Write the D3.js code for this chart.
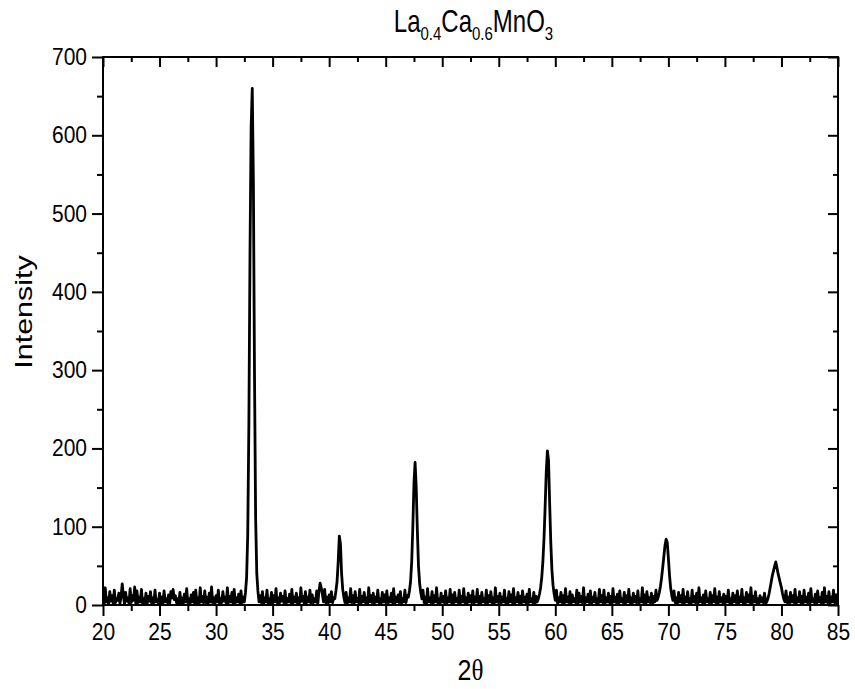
<!DOCTYPE html>
<html>
<head>
<meta charset="utf-8">
<script src="https://cdn.jsdelivr.net/npm/d3@7"></script>
<style>
	body { margin: 0; background: #fff; }
	text { font-family: Arial, 'Liberation Sans', sans-serif; fill: #000; }
</style>
</head>
<body>
<script>
// Scan start and step (degrees 2theta)
const scanStart = 20;
const scanStep = 0.1;

const intensity = [
	14, 2, 22, 4, 9, 1, 17, 5, 12, 2, // 20
	19, 3, 8, 6, 15, 2, 11, 27, 13, 1, // 21
	16, 5, 9, 2, 21, 3, 12, 6, 23, 2, // 22
	18, 3, 10, 4, 20, 2, 8, 3, 15, 1, // 23
	11, 5, 17, 2, 9, 3, 19, 4, 7, 2, // 24
	15, 3, 10, 2, 18, 4, 8, 3, 13, 2, // 25
	17, 9, 20, 7, 12, 3, 8, 2, 16, 3, // 26
	9, 2, 14, 4, 21, 3, 8, 2, 13, 4, // 27
	16, 2, 19, 3, 9, 2, 22, 4, 11, 3, // 28
	18, 3, 10, 2, 15, 4, 23, 3, 9, 2, // 29
	12, 4, 19, 2, 8, 3, 17, 5, 10, 2, // 30
	22, 3, 11, 4, 16, 2, 20, 3, 9, 4, // 31
	14, 2, 18, 3, 10, 4, 16, 35, 90, 230, // 32
	450, 610, 660, 540, 290, 110, 40, 18, 4, 12, // 33
	3, 17, 2, 9, 4, 19, 2, 8, 3, 16, // 34
	2, 12, 4, 21, 3, 9, 2, 15, 5, 11, // 35
	3, 18, 2, 8, 4, 14, 3, 20, 2, 10, // 36
	4, 15, 2, 9, 3, 22, 5, 11, 2, 17, // 37
	3, 10, 4, 19, 2, 13, 3, 8, 4, 18, // 38
	2, 18, 28, 22, 14, 4, 20, 3, 10, 2, // 39
	13, 4, 17, 3, 9, 8, 18, 30, 55, 88, // 40
	78, 40, 20, 10, 3, 16, 2, 9, 4, 21, // 41
	3, 12, 2, 17, 4, 8, 3, 20, 2, 11, // 42
	4, 16, 3, 9, 2, 22, 4, 12, 3, 15, // 43
	2, 10, 4, 19, 3, 8, 2, 16, 4, 13, // 44
	3, 18, 2, 9, 4, 15, 3, 21, 2, 10, // 45
	4, 13, 3, 17, 2, 8, 4, 19, 3, 12, // 46
	10, 18, 30, 55, 100, 155, 182, 150, 95, 50, // 47
	28, 16, 8, 19, 3, 10, 2, 21, 4, 9, // 48
	3, 17, 2, 12, 4, 22, 3, 8, 2, 15, // 49
	4, 11, 3, 18, 2, 9, 4, 20, 3, 13, // 50
	2, 16, 4, 8, 3, 19, 2, 11, 4, 21, // 51
	3, 9, 2, 15, 4, 12, 3, 18, 2, 10, // 52
	4, 20, 3, 11, 2, 16, 4, 8, 3, 19, // 53
	2, 12, 4, 17, 3, 9, 2, 22, 4, 11, // 54
	3, 15, 2, 10, 4, 19, 3, 8, 2, 17, // 55
	4, 13, 3, 21, 2, 9, 4, 16, 3, 11, // 56
	2, 18, 4, 10, 3, 14, 2, 20, 4, 8, // 57
	3, 16, 2, 11, 4, 8, 14, 22, 35, 55, // 58
	85, 125, 170, 197, 185, 130, 80, 45, 25, 14, // 59
	6, 19, 2, 9, 4, 16, 3, 12, 2, 21, // 60
	4, 10, 3, 17, 2, 13, 4, 8, 3, 19, // 61
	2, 15, 4, 11, 3, 22, 2, 9, 4, 14, // 62
	3, 18, 2, 10, 4, 16, 3, 8, 2, 20, // 63
	4, 12, 3, 19, 2, 9, 4, 15, 3, 11, // 64
	2, 21, 4, 10, 3, 14, 2, 18, 4, 8, // 65
	3, 16, 2, 12, 4, 20, 3, 9, 2, 15, // 66
	4, 11, 3, 18, 2, 8, 4, 22, 3, 13, // 67
	2, 17, 4, 9, 3, 15, 2, 11, 4, 19, // 68
	6, 10, 16, 24, 35, 48, 62, 76, 84, 80, // 69
	60, 38, 22, 12, 6, 18, 3, 9, 2, 16, // 70
	4, 12, 3, 20, 2, 10, 4, 17, 3, 8, // 71
	2, 19, 4, 11, 3, 15, 2, 22, 4, 9, // 72
	3, 13, 2, 18, 4, 8, 3, 16, 2, 12, // 73
	4, 21, 3, 10, 2, 17, 4, 9, 3, 14, // 74
	2, 11, 4, 19, 3, 8, 2, 15, 4, 12, // 75
	3, 18, 2, 10, 4, 20, 3, 9, 2, 16, // 76
	4, 13, 3, 22, 2, 11, 4, 17, 3, 8, // 77
	2, 12, 4, 9, 3, 15, 2, 4, 8, 14, // 78
	22, 30, 38, 44, 50, 55, 48, 40, 34, 28, // 79
	22, 14, 8, 4, 18, 3, 10, 2, 16, 4, // 80
	12, 3, 20, 2, 9, 4, 17, 3, 11, 2, // 81
	19, 4, 10, 3, 15, 2, 21, 4, 8, 3, // 82
	14, 2, 18, 4, 9, 3, 16, 2, 22, 4, // 83
	11, 3, 17, 2, 10, 4, 19, 3, 13, 2, // 84
	15 // 85
];

// Axis ticks
const xTicks = [20, 25, 30, 35, 40, 45, 50, 55, 60, 65, 70, 75, 80, 85];
const yTicks = [0, 100, 200, 300, 400, 500, 600, 700];

const width = 855;
const height = 689;
const margin = {top: 57, right: 17, bottom: 84, left: 103};

// The original text is drawn a bit taller than it is wide
const tickStretch = 1.12;
const titleStretch = 1.27;

const svg = d3.select('body').append('svg').attr('width', width).attr('height', height);

const x = d3.scaleLinear().domain([20, 85]).range([margin.left, width - margin.right]);
const y = d3.scaleLinear().domain([0, 700]).range([height - margin.bottom, margin.top]);

const data = intensity.map((v, i) => ({t: scanStart + i * scanStep, v: v}));

// Clip the trace to the frame
svg.append('clipPath')
	.attr('id', 'plot-clip')
	.append('rect')
	.attr('x', margin.left)
	.attr('y', margin.top)
	.attr('width', x.range()[1] - margin.left)
	.attr('height', y.range()[0] - margin.top);

const line = d3
	.line()
	.x((d) => x(d.t))
	.y((d) => y(d.v));

svg.append('path')
	.datum(data)
	.attr('clip-path', 'url(#plot-clip)')
	.attr('d', line)
	.attr('fill', 'none')
	.attr('stroke', '#000')
	.attr('stroke-width', 2.8)
	.attr('stroke-linejoin', 'round');

// Minor ticks sit halfway between the majors
const xMinor = d3.range(22.5, 85, 5);
const yMinor = d3.range(50, 700, 100);

function styleAxis(g) {
	g.select('.domain').remove();
	g.selectAll('line').attr('stroke', '#000').attr('stroke-width', 2);
	g.selectAll('text').style('font-size', '21px').attr('transform', `scale(1, ${tickStretch})`);
}

// Bottom: ticks outward, labelled
svg.append('g')
	.attr('transform', `translate(0, ${y(0)})`)
	.call(d3.axisBottom(x).tickValues(xTicks).tickSize(11).tickPadding(5).tickFormat(d3.format('d')))
	.call(styleAxis);
svg.append('g')
	.attr('transform', `translate(0, ${y(0)})`)
	.call(d3.axisBottom(x).tickValues(xMinor).tickSize(6).tickFormat(''))
	.call(styleAxis);

// Left: ticks outward, labelled
svg.append('g')
	.attr('transform', `translate(${x(20)}, 0)`)
	.call(d3.axisLeft(y).tickValues(yTicks).tickSize(11).tickPadding(5).tickFormat(d3.format('d')))
	.call(styleAxis);
svg.append('g')
	.attr('transform', `translate(${x(20)}, 0)`)
	.call(d3.axisLeft(y).tickValues(yMinor).tickSize(6).tickFormat(''))
	.call(styleAxis);

// Top and right: ticks point inside, no labels
svg.append('g')
	.attr('transform', `translate(0, ${y(700)})`)
	.call(d3.axisTop(x).tickValues(xTicks).tickSize(-10).tickFormat(''))
	.call(styleAxis);
svg.append('g')
	.attr('transform', `translate(0, ${y(700)})`)
	.call(d3.axisTop(x).tickValues(xMinor).tickSize(-5).tickFormat(''))
	.call(styleAxis);
svg.append('g')
	.attr('transform', `translate(${x(85)}, 0)`)
	.call(d3.axisRight(y).tickValues(yTicks).tickSize(-10).tickFormat(''))
	.call(styleAxis);
svg.append('g')
	.attr('transform', `translate(${x(85)}, 0)`)
	.call(d3.axisRight(y).tickValues(yMinor).tickSize(-5).tickFormat(''))
	.call(styleAxis);

// Frame
svg.append('rect')
	.attr('x', x(20))
	.attr('y', y(700))
	.attr('width', x(85) - x(20))
	.attr('height', y(0) - y(700))
	.attr('fill', 'none')
	.attr('stroke', '#000')
	.attr('stroke-width', 2);

// Axis titles
svg.append('text')
	.attr('transform', `translate(32, 312) rotate(-90) scale(${titleStretch}, 1)`)
	.attr('text-anchor', 'middle')
	.style('font-size', '24px')
	.text('Intensity');

const xTitle = svg.append('text')
	.attr('transform', `translate(${(x(20) + x(85)) / 2}, 680) scale(1, 1.2)`)
	.attr('text-anchor', 'middle')
	.style('font-size', '25px');
xTitle.append('tspan').text('2');
xTitle.append('tspan').style('font-family', "'Times New Roman', 'Liberation Serif', serif").text('θ');

// Chemical formula title with subscripts
const title = svg.append('text')
	.attr('transform', `translate(${(x(20) + x(85)) / 2 + 3}, 32) scale(1, ${titleStretch})`)
	.attr('text-anchor', 'middle')
	.style('font-size', '24px');
const parts = [['La', false], ['0.4', true], ['Ca', false], ['0.6', true], ['MnO', false], ['3', true]];
parts.forEach(([s, sub]) => {
	title.append('tspan')
		.attr('dy', sub ? 6.5 : -6.5)
		.style('font-size', sub ? '15px' : '24px')
		.text(s);
});
title.select('tspan').attr('dy', 0);
</script>
</body>
</html>
